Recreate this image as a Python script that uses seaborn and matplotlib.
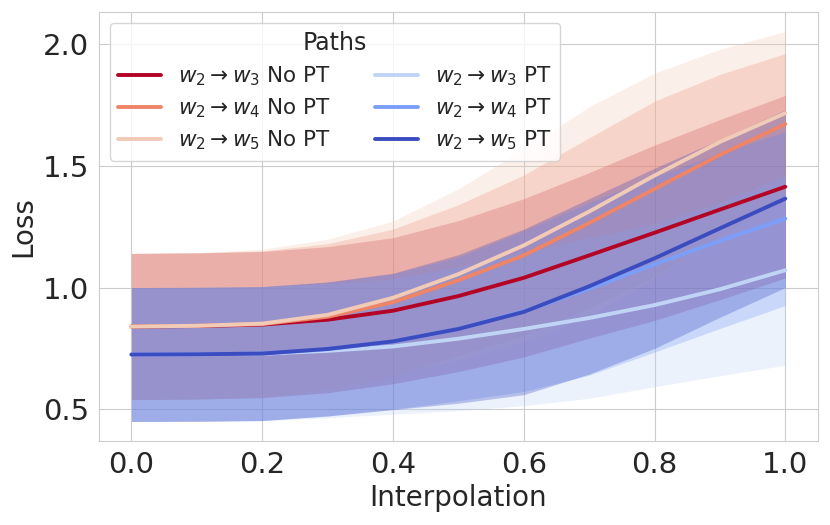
import numpy as np
import pandas as pd
import matplotlib
matplotlib.use("Agg")
import matplotlib.pyplot as plt
import seaborn as sns

# interpolation coefficient
x = [0.0, 0.1, 0.2, 0.3, 0.4, 0.5, 0.6, 0.7, 0.8, 0.9, 1.0]

# mean loss along each path
w3_nopt = [0.840, 0.842, 0.848, 0.868, 0.905, 0.965, 1.040, 1.132, 1.225, 1.320, 1.414]
w4_nopt = [0.840, 0.843, 0.850, 0.880, 0.940, 1.030, 1.132, 1.265, 1.405, 1.545, 1.671]
w5_nopt = [0.840, 0.843, 0.852, 0.888, 0.958, 1.055, 1.173, 1.312, 1.460, 1.598, 1.716]
w3_pt = [0.725, 0.726, 0.728, 0.740, 0.758, 0.790, 0.830, 0.875, 0.928, 0.993, 1.071]
w4_pt = [0.725, 0.726, 0.729, 0.747, 0.778, 0.830, 0.903, 0.995, 1.095, 1.192, 1.283]
w5_pt = [0.725, 0.726, 0.729, 0.748, 0.779, 0.830, 0.900, 1.005, 1.120, 1.243, 1.365]

# std of loss along each path
w3_nopt_sd = [0.30, 0.30, 0.30, 0.30, 0.30, 0.31, 0.325, 0.34, 0.36, 0.37, 0.375]
w4_nopt_sd = [0.30, 0.30, 0.30, 0.30, 0.30, 0.31, 0.33, 0.35, 0.36, 0.33, 0.29]
w5_nopt_sd = [0.30, 0.30, 0.305, 0.31, 0.315, 0.35, 0.395, 0.43, 0.42, 0.38, 0.335]
w3_pt_sd = [0.275, 0.275, 0.275, 0.275, 0.278, 0.295, 0.315, 0.33, 0.335, 0.355, 0.39]
w4_pt_sd = [0.275, 0.275, 0.275, 0.275, 0.278, 0.295, 0.33, 0.355, 0.36, 0.36, 0.357]
w5_pt_sd = [0.275, 0.275, 0.275, 0.275, 0.28, 0.305, 0.34, 0.36, 0.37, 0.365, 0.365]

labels = [r"$w_2 \rightarrow w_3$ No PT", r"$w_2 \rightarrow w_4$ No PT", r"$w_2 \rightarrow w_5$ No PT",
          r"$w_2 \rightarrow w_3$ PT", r"$w_2 \rightarrow w_4$ PT", r"$w_2 \rightarrow w_5$ PT"]
means = [w3_nopt, w4_nopt, w5_nopt, w3_pt, w4_pt, w5_pt]
sds = [w3_nopt_sd, w4_nopt_sd, w5_nopt_sd, w3_pt_sd, w4_pt_sd, w5_pt_sd]

# long-form table for seaborn
df = pd.concat([pd.DataFrame({"Interpolation": x, "Loss": m, "Paths": lab})
                for lab, m in zip(labels, means)], ignore_index=True)

sns.set_style("whitegrid")
# coolwarm, red end first: dark red, salmon, peach, light blue, mid blue, dark blue
colors = plt.get_cmap("coolwarm")(np.linspace(0, 1, 6))[::-1]
palette = dict(zip(labels, colors))

fig, ax = plt.subplots(figsize=(8.3, 5.25), dpi=100)
fig.subplots_adjust(left=0.119, right=0.9855, top=0.977, bottom=0.16)

# shaded +/- 1 sd bands
for lab, m, s in zip(labels, means, sds):
    m = np.array(m)
    s = np.array(s)
    ax.fill_between(x, m - s, m + s, color=palette[lab], alpha=0.3, linewidth=0)

sns.lineplot(data=df, x="Interpolation", y="Loss", hue="Paths", hue_order=labels,
             palette=palette, linewidth=2.8, ax=ax)

ax.tick_params(labelsize=21)
ax.set_xlabel("Interpolation", fontsize=20)
ax.set_ylabel("Loss", fontsize=20)
ax.set_yticks([0.5, 1.0, 1.5, 2.0])
ax.legend(title="Paths", ncol=2, loc="upper left", fontsize=15.5, title_fontsize=17,
          labelspacing=0.4)

plt.savefig("out.png", dpi=100)
